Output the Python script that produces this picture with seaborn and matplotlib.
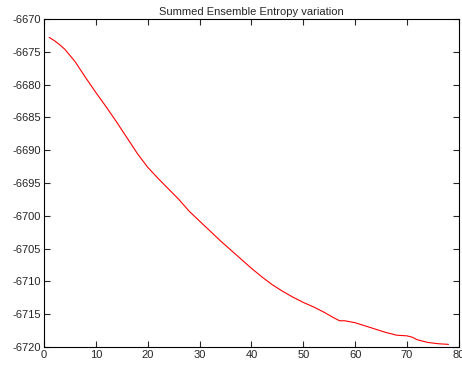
import matplotlib
matplotlib.use('Agg')
import matplotlib.pyplot as plt
import seaborn as sns
import pandas as pd

# iteration vs summed entropy
iterations = [1, 2, 3, 4, 6, 8, 10, 12, 14, 16, 18, 20, 22, 24, 26, 28, 30,
              32, 34, 36, 38, 40, 42, 44, 46, 48, 50, 52, 54, 56, 57, 58, 60,
              62, 64, 66, 68, 70, 71, 72, 74, 76, 78]
entropy = [-6672.8, -6673.3, -6673.9, -6674.6, -6676.5, -6678.9, -6681.2,
           -6683.4, -6685.7, -6688.1, -6690.5, -6692.6, -6694.3, -6695.9,
           -6697.5, -6699.3, -6700.8, -6702.3, -6703.8, -6705.2, -6706.6,
           -6708.0, -6709.3, -6710.5, -6711.5, -6712.4, -6713.2, -6713.9,
           -6714.7, -6715.6, -6716.0, -6716.0, -6716.3, -6716.8, -6717.3,
           -6717.8, -6718.2, -6718.3, -6718.5, -6718.9, -6719.3, -6719.5,
           -6719.6]
x_ticks = [0, 10, 20, 30, 40, 50, 60, 70, 80]
y_ticks = [-6720, -6715, -6710, -6705, -6700, -6695, -6690, -6685, -6680, -6675, -6670]

sns.set_style('white')
plt.rcParams['font.family'] = ['Liberation Sans', 'DejaVu Sans']
plt.rcParams['axes.unicode_minus'] = False

df = pd.DataFrame({'iter': iterations, 'entropy': entropy})

fig = plt.figure(figsize=(4.62, 3.72), dpi=100)
ax = fig.add_axes([0.0952, 0.0672, 0.898, 0.8817])
sns.lineplot(data=df, x='iter', y='entropy', ax=ax, color='red', linewidth=0.8)

ax.set_xlim(0, 80)
ax.set_ylim(-6720, -6670)
ax.set_xticks(x_ticks)
ax.set_yticks(y_ticks)
ax.set_xlabel('')
ax.set_ylabel('')
ax.tick_params(direction='in', length=4, width=0.8, labelsize=8,
               top=True, right=True, bottom=True, left=True, pad=2)
for s in ax.spines.values():
    s.set_color('black')
    s.set_linewidth(0.8)
ax.set_title('Summed Ensemble Entropy variation', fontsize=8, pad=3)

fig.savefig('out.png', dpi=100)
